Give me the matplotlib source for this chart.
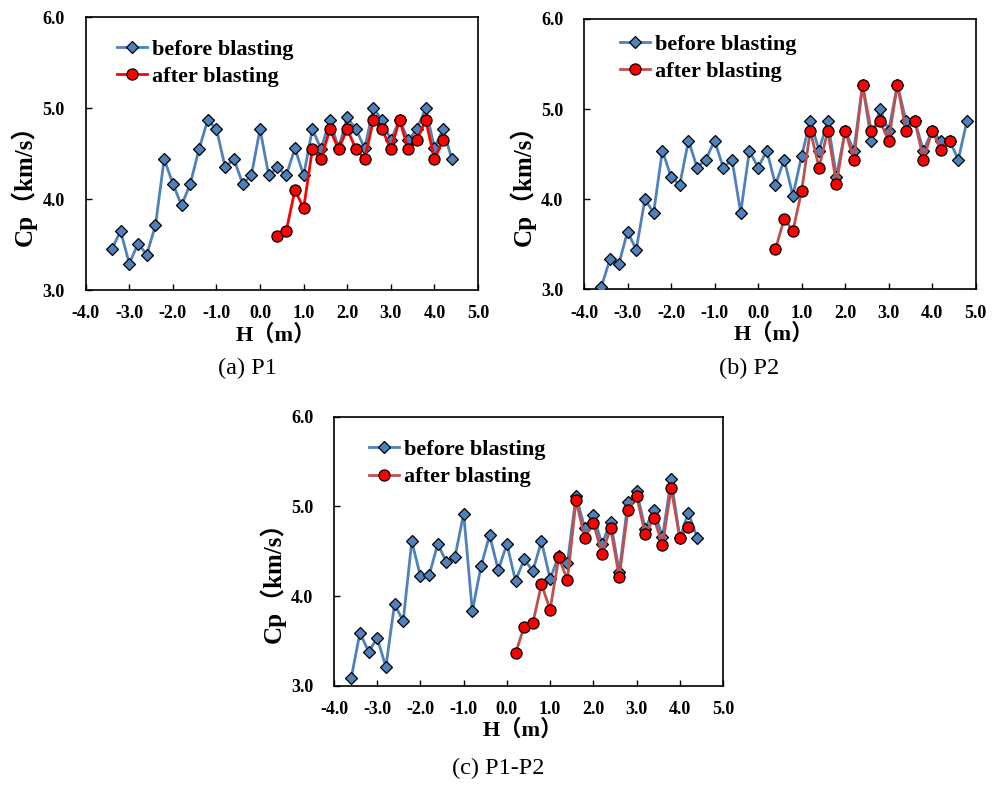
import numpy as np
import matplotlib
matplotlib.use("Agg")
import matplotlib.pyplot as plt

# ---------------- data ----------------
h_before_a = [-3.4, -3.2, -3.0, -2.8, -2.6, -2.4, -2.2, -2.0, -1.8, -1.6, -1.4, -1.2, -1.0, -0.8,
              -0.6, -0.4, -0.2, 0.0, 0.2, 0.4, 0.6, 0.8, 1.0, 1.2, 1.4, 1.6, 1.8, 2.0, 2.2, 2.4,
              2.6, 2.8, 3.0, 3.2, 3.4, 3.6, 3.8, 4.0, 4.2, 4.4]
cp_before_a = [3.45, 3.65, 3.29, 3.51, 3.39, 3.71, 4.44, 4.17, 3.93, 4.17, 4.55, 4.87, 4.77, 4.35,
               4.44, 4.17, 4.26, 4.77, 4.26, 4.35, 4.26, 4.56, 4.26, 4.77, 4.55, 4.87, 4.56, 4.90,
               4.77, 4.56, 5.00, 4.87, 4.65, 4.87, 4.65, 4.77, 5.00, 4.56, 4.77, 4.44]
h_after_a = [0.4, 0.6, 0.8, 1.0, 1.2, 1.4, 1.6, 1.8, 2.0, 2.2, 2.4, 2.6, 2.8, 3.0, 3.2, 3.4,
             3.6, 3.8, 4.0, 4.2]
cp_after_a = [3.59, 3.65, 4.10, 3.90, 4.55, 4.44, 4.77, 4.55, 4.77, 4.55, 4.44, 4.87, 4.77, 4.55,
              4.87, 4.55, 4.65, 4.87, 4.44, 4.65]

h_before_b = [-3.6, -3.4, -3.2, -3.0, -2.8, -2.6, -2.4, -2.2, -2.0, -1.8, -1.6, -1.4, -1.2, -1.0,
              -0.8, -0.6, -0.4, -0.2, 0.0, 0.2, 0.4, 0.6, 0.8, 1.0, 1.2, 1.4, 1.6, 1.8, 2.0, 2.2,
              2.4, 2.6, 2.8, 3.0, 3.2, 3.4, 3.6, 3.8, 4.0, 4.2, 4.4, 4.6, 4.8]
cp_before_b = [3.03, 3.34, 3.28, 3.64, 3.44, 4.00, 3.85, 4.54, 4.25, 4.16, 4.65, 4.35, 4.44, 4.65,
               4.35, 4.44, 3.85, 4.54, 4.35, 4.54, 4.16, 4.44, 4.04, 4.48, 4.87, 4.54, 4.87, 4.25,
               4.76, 4.54, 5.27, 4.65, 5.00, 4.76, 5.27, 4.87, 4.87, 4.54, 4.76, 4.65, 4.65, 4.44,
               4.87]
h_after_b = [0.4, 0.6, 0.8, 1.0, 1.2, 1.4, 1.6, 1.8, 2.0, 2.2, 2.4, 2.6, 2.8, 3.0, 3.2, 3.4,
             3.6, 3.8, 4.0, 4.2, 4.4]
cp_after_b = [3.45, 3.78, 3.65, 4.09, 4.76, 4.35, 4.76, 4.17, 4.76, 4.44, 5.27, 4.76, 4.87, 4.65,
              5.27, 4.76, 4.87, 4.44, 4.76, 4.55, 4.65]

h_before_c = [-3.6, -3.4, -3.2, -3.0, -2.8, -2.6, -2.4, -2.2, -2.0, -1.8, -1.6, -1.4, -1.2, -1.0,
              -0.8, -0.6, -0.4, -0.2, 0.0, 0.2, 0.4, 0.6, 0.8, 1.0, 1.2, 1.4, 1.6, 1.8, 2.0, 2.2,
              2.4, 2.6, 2.8, 3.0, 3.2, 3.4, 3.6, 3.8, 4.0, 4.2, 4.4]
cp_before_c = [3.09, 3.59, 3.38, 3.53, 3.21, 3.91, 3.72, 4.61, 4.22, 4.23, 4.58, 4.38, 4.44, 4.92,
               3.83, 4.33, 4.68, 4.29, 4.58, 4.17, 4.41, 4.28, 4.61, 4.19, 4.45, 4.37, 5.12, 4.76,
               4.90, 4.58, 4.83, 4.27, 5.05, 5.17, 4.75, 4.96, 4.66, 5.30, 4.65, 4.93, 4.65]
h_after_c = [0.2, 0.4, 0.6, 0.8, 1.0, 1.2, 1.4, 1.6, 1.8, 2.0, 2.2, 2.4, 2.6, 2.8, 3.0, 3.2,
             3.4, 3.6, 3.8, 4.0, 4.2]
cp_after_c = [3.36, 3.66, 3.70, 4.13, 3.85, 4.43, 4.18, 5.07, 4.65, 4.82, 4.47, 4.76, 4.21, 4.96,
              5.12, 4.69, 4.87, 4.57, 5.20, 4.65, 4.77]

x_ticks = [-4.0, -3.0, -2.0, -1.0, 0.0, 1.0, 2.0, 3.0, 4.0, 5.0]
y_ticks = [3.0, 4.0, 5.0, 6.0]
captions = ["(a) P1", "(b) P2", "(c) P1-P2"]
legend_labels = ["before blasting", "after blasting"]

# ---------------- style ----------------
SERIF = ["Liberation Serif", "DejaVu Serif"]
MIXED = ["Liberation Serif", "Noto Sans CJK SC"]
plt.rcParams["font.family"] = SERIF

BLUE = "#4F81BD"
RED_LINE_A = "#FF0000"
RED_LINE_BC = "#C0504D"
RED_FILL = "#FF0000"

fig = plt.figure(figsize=(10.0, 7.97), dpi=100)

panels = [
    dict(rect=[0.0857, 0.6361, 0.3923, 0.3422], hb=h_before_a, cb=cp_before_a,
         ha=h_after_a, ca=cp_after_a, rl=RED_LINE_A, cap_xy=(0.247, 0.538),
         leg=(0.079, 0.920)),
    dict(rect=[0.584, 0.6370, 0.3917, 0.3392], hb=h_before_b, cb=cp_before_b,
         ha=h_after_b, ca=cp_after_b, rl=RED_LINE_BC, cap_xy=(0.749, 0.538),
         leg=(0.092, 0.943)),
    dict(rect=[0.334, 0.1396, 0.389, 0.3376], hb=h_before_c, cb=cp_before_c,
         ha=h_after_c, ca=cp_after_c, rl=RED_LINE_BC, cap_xy=(0.498, 0.036),
         leg=(0.090, 0.915)),
]

for p, cap in zip(panels, captions):
    ax = fig.add_axes(p["rect"])
    ax.plot(p["hb"], p["cb"], color=BLUE, lw=2.0, marker="D", ms=6.5,
            mfc=BLUE, mec="black", mew=0.9, label=legend_labels[0], zorder=3)
    ax.plot(p["ha"], p["ca"], color=p["rl"], lw=2.0, marker="o", ms=8,
            mfc=RED_FILL, mec="black", mew=0.9, label=legend_labels[1], zorder=4)
    ax.set_xlim(-4.0, 5.0)
    ax.set_ylim(3.0, 6.0)
    ax.set_xticks(x_ticks)
    ax.set_yticks(y_ticks)
    ax.set_xticklabels([f"{t:.1f}" for t in x_ticks], fontweight="bold", fontsize=13)
    ax.set_yticklabels([f"{t:.1f}" for t in y_ticks], fontweight="bold", fontsize=13)
    ax.tick_params(direction="in", length=4, width=1.0)
    ax.tick_params(axis="x", pad=11)
    ax.tick_params(axis="y", pad=15)
    for s in ax.spines.values():
        s.set_linewidth(1.2)
        s.set_color("black")
    ax.set_xlabel("H（m）", family=MIXED, fontweight="bold", fontsize=16)
    ax.xaxis.label.set_va("center")
    ax.xaxis.set_label_coords(0.485, -45 / 272.0)
    ax.set_ylabel("Cp（km/s）", family=MIXED, fontweight="bold", fontsize=18)
    ax.yaxis.label.set_va("center")
    ax.yaxis.set_label_coords(-62 / 392.0, 0.407)
    ax.legend(loc="upper left", bbox_to_anchor=p["leg"], frameon=False,
              prop={"family": SERIF, "weight": "bold", "size": 16},
              handlelength=1.35, handletextpad=0.22, labelspacing=0.3,
              borderaxespad=0.0, borderpad=0.0)
    fig.text(p["cap_xy"][0], p["cap_xy"][1], cap, ha="center", va="center",
             fontsize=17.5, family=SERIF)

fig.savefig("out.png", dpi=100)
